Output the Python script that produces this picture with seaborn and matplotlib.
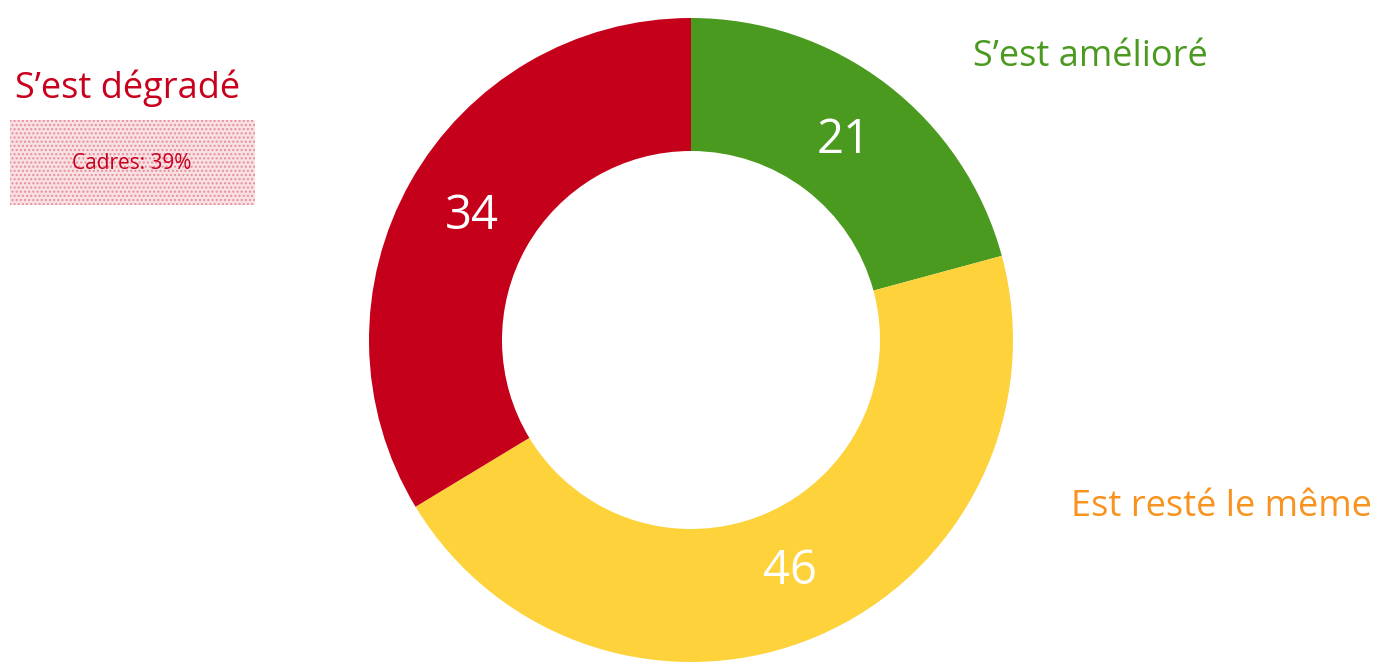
import matplotlib
matplotlib.use("Agg")
import matplotlib.pyplot as plt
import seaborn as sns
from matplotlib.patches import Rectangle

# data
categories = ["S\u2019est amélioré", "Est resté le même", "S\u2019est dégradé"]
values = [21, 46, 34]
colors = ["#4A9A1F", "#FDD23A", "#C5001A"]
label_colors = ["#4A9A1F", "#F7931E", "#C8001E"]
note_text = "Cadres: 39%"

sns.set_theme(style="white")
plt.rcParams["font.family"] = ["Open Sans", "DejaVu Sans"]

W, H = 1376, 665
fig = plt.figure(figsize=(W / 100, H / 100), dpi=100)

# donut axes: centre (691, 340), radius 322 px
cx, cy, r = 691, 340, 322
ax = fig.add_axes([(cx - r) / W, (H - cy - r) / H, 2 * r / W, 2 * r / H])
wedges, texts = ax.pie(
    values,
    colors=colors,
    startangle=90,
    counterclock=False,
    radius=1,
    labels=[str(v) for v in values],
    labeldistance=0.78,
    wedgeprops=dict(width=1 - 189 / 322, linewidth=0),
    textprops=dict(color="white", fontsize=34, ha="center", va="center"),
)
ax.set_xlim(-1, 1)
ax.set_ylim(-1, 1)
ax.axis("off")

# category labels
fig.text(973 / W, 1 - 57 / H, categories[0], color=label_colors[0],
         fontsize=26, ha="left", va="center")
fig.text(1071 / W, 1 - 507 / H, categories[1], color=label_colors[1],
         fontsize=26, ha="left", va="center")
fig.text(15 / W, 1 - 88 / H, categories[2], color=label_colors[2],
         fontsize=26, ha="left", va="center")

# dotted note box
box = Rectangle((10 / W, 1 - 205 / H), 245 / W, 85 / H, transform=fig.transFigure,
                facecolor="#F8E0E3", edgecolor="#E58F9B", hatch="....",
                linewidth=0)
fig.patches.append(box)
fig.text(132 / W, 1 - 164 / H, note_text, color="#C8001E", fontsize=15,
         ha="center", va="center")

fig.savefig("out.png", dpi=100)
